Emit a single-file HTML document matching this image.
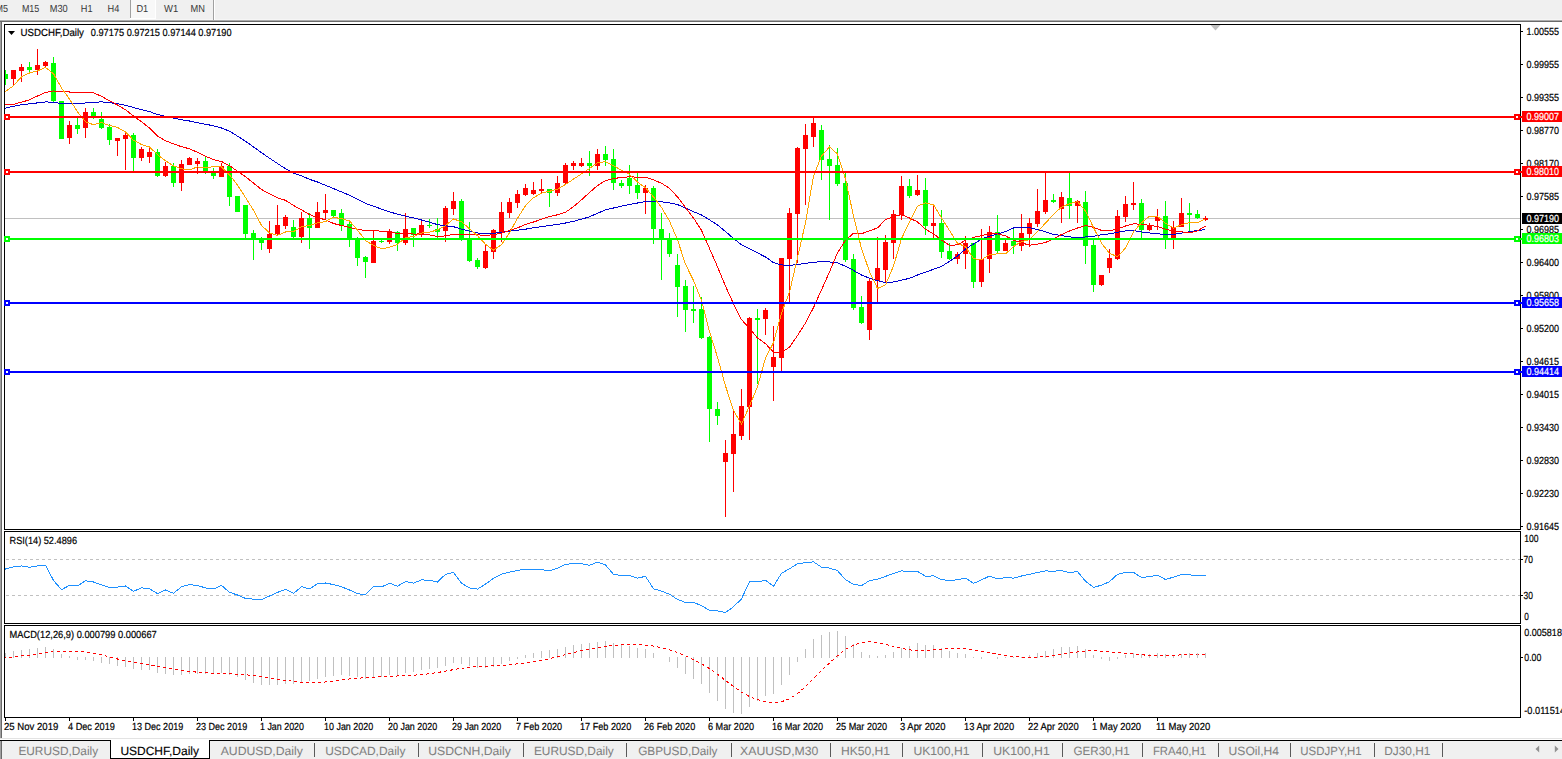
<!DOCTYPE html>
<html><head><meta charset="utf-8"><title>USDCHF,Daily</title>
<style>html,body{margin:0;padding:0;background:#fff;overflow:hidden}svg{display:block}text{white-space:pre}</style></head>
<body>
<svg width="1562" height="759" viewBox="0 0 1562 759" font-family='"Liberation Sans", sans-serif' shape-rendering="crispEdges" text-rendering="geometricPrecision">
<rect x="0" y="0" width="1562" height="759" fill="#fff"/>
<rect x="0" y="0" width="1562" height="20" fill="#f0f0f0"/>
<rect x="0" y="19" width="1562" height="1" fill="#f6f6f6"/>
<rect x="0" y="20" width="1562" height="1" fill="#adadad"/>
<rect x="0" y="21" width="1562" height="1" fill="#6a6a6a"/>
<rect x="0" y="22" width="1" height="717" fill="#a0a0a0"/>
<rect x="1" y="22" width="1" height="717" fill="#696969"/>
<rect x="130" y="0" width="1" height="18" fill="#a0a0a0"/>
<rect x="131" y="0" width="24" height="18" fill="#f8f8f8"/>
<rect x="130" y="18" width="26" height="1" fill="#fff"/>
<rect x="155" y="0" width="1" height="18" fill="#fff"/>
<rect x="213" y="0" width="1" height="20" fill="#a0a0a0"/>
<rect x="214" y="0" width="1" height="20" fill="#fff"/>
<text x="-4.5" y="12" font-size="10.3" fill="#383838" stroke="#383838" stroke-width="0" textLength="12.5" lengthAdjust="spacingAndGlyphs">M5</text>
<text x="21.9" y="12" font-size="10.3" fill="#383838" stroke="#383838" stroke-width="0" textLength="17.4" lengthAdjust="spacingAndGlyphs">M15</text>
<text x="49.7" y="12" font-size="10.3" fill="#383838" stroke="#383838" stroke-width="0" textLength="18.0" lengthAdjust="spacingAndGlyphs">M30</text>
<text x="80.8" y="12" font-size="10.3" fill="#383838" stroke="#383838" stroke-width="0" textLength="11.7" lengthAdjust="spacingAndGlyphs">H1</text>
<text x="107.6" y="12" font-size="10.3" fill="#383838" stroke="#383838" stroke-width="0" textLength="11.8" lengthAdjust="spacingAndGlyphs">H4</text>
<text x="136.4" y="12" font-size="10.3" fill="#383838" stroke="#383838" stroke-width="0" textLength="11.8" lengthAdjust="spacingAndGlyphs">D1</text>
<text x="164" y="12" font-size="10.3" fill="#383838" stroke="#383838" stroke-width="0" textLength="14.2" lengthAdjust="spacingAndGlyphs">W1</text>
<text x="190.6" y="12" font-size="10.3" fill="#383838" stroke="#383838" stroke-width="0" textLength="14.4" lengthAdjust="spacingAndGlyphs">MN</text>
<clipPath id="mc"><rect x="5" y="25" width="1515" height="504"/></clipPath>
<rect x="5" y="218" width="1515" height="1" fill="#c0c0c0"/>
<g clip-path="url(#mc)">
<rect x="5" y="70" width="1" height="15" fill="#00ff00"/>
<rect x="3" y="74" width="5" height="5" fill="#00ff00"/>
<rect x="13" y="70" width="1" height="15" fill="#ff0000"/>
<rect x="11" y="70" width="5" height="9" fill="#ff0000"/>
<rect x="21" y="64" width="1" height="18" fill="#ff0000"/>
<rect x="19" y="67" width="5" height="4" fill="#ff0000"/>
<rect x="29" y="62" width="1" height="12" fill="#00ff00"/>
<rect x="27" y="67" width="5" height="3" fill="#00ff00"/>
<rect x="37" y="49" width="1" height="26" fill="#ff0000"/>
<rect x="35" y="65" width="5" height="5" fill="#ff0000"/>
<rect x="45" y="61" width="1" height="6" fill="#ff0000"/>
<rect x="43" y="62" width="5" height="4" fill="#ff0000"/>
<rect x="53" y="57" width="1" height="46" fill="#00ff00"/>
<rect x="51" y="63" width="5" height="38" fill="#00ff00"/>
<rect x="61" y="101" width="1" height="38" fill="#00ff00"/>
<rect x="59" y="101" width="5" height="38" fill="#00ff00"/>
<rect x="69" y="121" width="1" height="23" fill="#ff0000"/>
<rect x="67" y="125" width="5" height="13" fill="#ff0000"/>
<rect x="77" y="118" width="1" height="16" fill="#00ff00"/>
<rect x="75" y="125" width="5" height="4" fill="#00ff00"/>
<rect x="85" y="108" width="1" height="30" fill="#ff0000"/>
<rect x="83" y="112" width="5" height="16" fill="#ff0000"/>
<rect x="93" y="108" width="1" height="11" fill="#00ff00"/>
<rect x="91" y="112" width="5" height="4" fill="#00ff00"/>
<rect x="101" y="112" width="1" height="17" fill="#00ff00"/>
<rect x="99" y="119" width="5" height="9" fill="#00ff00"/>
<rect x="109" y="124" width="1" height="21" fill="#00ff00"/>
<rect x="107" y="127" width="5" height="13" fill="#00ff00"/>
<rect x="117" y="138" width="1" height="18" fill="#ff0000"/>
<rect x="115" y="138" width="5" height="3" fill="#ff0000"/>
<rect x="125" y="132" width="1" height="38" fill="#ff0000"/>
<rect x="123" y="135" width="5" height="4" fill="#ff0000"/>
<rect x="133" y="133" width="1" height="38" fill="#00ff00"/>
<rect x="131" y="135" width="5" height="23" fill="#00ff00"/>
<rect x="141" y="147" width="1" height="14" fill="#ff0000"/>
<rect x="139" y="149" width="5" height="9" fill="#ff0000"/>
<rect x="149" y="147" width="1" height="16" fill="#ff0000"/>
<rect x="147" y="152" width="5" height="5" fill="#ff0000"/>
<rect x="157" y="149" width="1" height="28" fill="#00ff00"/>
<rect x="155" y="152" width="5" height="24" fill="#00ff00"/>
<rect x="165" y="162" width="1" height="15" fill="#ff0000"/>
<rect x="163" y="166" width="5" height="10" fill="#ff0000"/>
<rect x="173" y="163" width="1" height="24" fill="#00ff00"/>
<rect x="171" y="166" width="5" height="17" fill="#00ff00"/>
<rect x="181" y="160" width="1" height="31" fill="#ff0000"/>
<rect x="179" y="164" width="5" height="19" fill="#ff0000"/>
<rect x="189" y="157" width="1" height="8" fill="#ff0000"/>
<rect x="187" y="158" width="5" height="7" fill="#ff0000"/>
<rect x="197" y="158" width="1" height="16" fill="#ff0000"/>
<rect x="195" y="161" width="5" height="3" fill="#ff0000"/>
<rect x="205" y="156" width="1" height="18" fill="#00ff00"/>
<rect x="203" y="161" width="5" height="10" fill="#00ff00"/>
<rect x="213" y="168" width="1" height="11" fill="#00ff00"/>
<rect x="211" y="173" width="5" height="3" fill="#00ff00"/>
<rect x="221" y="163" width="1" height="14" fill="#ff0000"/>
<rect x="219" y="166" width="5" height="11" fill="#ff0000"/>
<rect x="229" y="163" width="1" height="43" fill="#00ff00"/>
<rect x="227" y="166" width="5" height="31" fill="#00ff00"/>
<rect x="237" y="196" width="1" height="16" fill="#00ff00"/>
<rect x="235" y="196" width="5" height="16" fill="#00ff00"/>
<rect x="245" y="205" width="1" height="33" fill="#00ff00"/>
<rect x="243" y="205" width="5" height="29" fill="#00ff00"/>
<rect x="253" y="230" width="1" height="30" fill="#00ff00"/>
<rect x="251" y="233" width="5" height="6" fill="#00ff00"/>
<rect x="261" y="237" width="1" height="13" fill="#00ff00"/>
<rect x="259" y="239" width="5" height="4" fill="#00ff00"/>
<rect x="269" y="221" width="1" height="32" fill="#ff0000"/>
<rect x="267" y="234" width="5" height="15" fill="#ff0000"/>
<rect x="277" y="205" width="1" height="30" fill="#ff0000"/>
<rect x="275" y="225" width="5" height="9" fill="#ff0000"/>
<rect x="285" y="215" width="1" height="14" fill="#ff0000"/>
<rect x="283" y="217" width="5" height="9" fill="#ff0000"/>
<rect x="293" y="220" width="1" height="18" fill="#00ff00"/>
<rect x="291" y="227" width="5" height="10" fill="#00ff00"/>
<rect x="301" y="212" width="1" height="31" fill="#ff0000"/>
<rect x="299" y="218" width="5" height="19" fill="#ff0000"/>
<rect x="309" y="213" width="1" height="36" fill="#00ff00"/>
<rect x="307" y="218" width="5" height="10" fill="#00ff00"/>
<rect x="317" y="202" width="1" height="26" fill="#ff0000"/>
<rect x="315" y="212" width="5" height="16" fill="#ff0000"/>
<rect x="325" y="194" width="1" height="26" fill="#ff0000"/>
<rect x="323" y="210" width="5" height="3" fill="#ff0000"/>
<rect x="333" y="210" width="1" height="8" fill="#00ff00"/>
<rect x="331" y="210" width="5" height="6" fill="#00ff00"/>
<rect x="341" y="209" width="1" height="22" fill="#00ff00"/>
<rect x="339" y="213" width="5" height="12" fill="#00ff00"/>
<rect x="349" y="222" width="1" height="25" fill="#00ff00"/>
<rect x="347" y="224" width="5" height="15" fill="#00ff00"/>
<rect x="357" y="237" width="1" height="29" fill="#00ff00"/>
<rect x="355" y="239" width="5" height="19" fill="#00ff00"/>
<rect x="365" y="256" width="1" height="22" fill="#00ff00"/>
<rect x="363" y="257" width="5" height="5" fill="#00ff00"/>
<rect x="373" y="230" width="1" height="33" fill="#ff0000"/>
<rect x="371" y="241" width="5" height="22" fill="#ff0000"/>
<rect x="381" y="240" width="1" height="3" fill="#00ff00"/>
<rect x="379" y="241" width="5" height="1" fill="#00ff00"/>
<rect x="389" y="229" width="1" height="15" fill="#ff0000"/>
<rect x="387" y="231" width="5" height="11" fill="#ff0000"/>
<rect x="397" y="231" width="1" height="20" fill="#00ff00"/>
<rect x="395" y="232" width="5" height="11" fill="#00ff00"/>
<rect x="405" y="213" width="1" height="32" fill="#ff0000"/>
<rect x="403" y="229" width="5" height="14" fill="#ff0000"/>
<rect x="413" y="228" width="1" height="19" fill="#00ff00"/>
<rect x="411" y="228" width="5" height="7" fill="#00ff00"/>
<rect x="421" y="220" width="1" height="17" fill="#ff0000"/>
<rect x="419" y="225" width="5" height="10" fill="#ff0000"/>
<rect x="429" y="219" width="1" height="9" fill="#00ff00"/>
<rect x="427" y="225" width="5" height="1" fill="#00ff00"/>
<rect x="437" y="218" width="1" height="20" fill="#00ff00"/>
<rect x="435" y="229" width="5" height="3" fill="#00ff00"/>
<rect x="445" y="206" width="1" height="36" fill="#ff0000"/>
<rect x="443" y="208" width="5" height="23" fill="#ff0000"/>
<rect x="453" y="192" width="1" height="23" fill="#ff0000"/>
<rect x="451" y="201" width="5" height="8" fill="#ff0000"/>
<rect x="461" y="199" width="1" height="42" fill="#00ff00"/>
<rect x="459" y="201" width="5" height="38" fill="#00ff00"/>
<rect x="469" y="222" width="1" height="40" fill="#00ff00"/>
<rect x="467" y="239" width="5" height="22" fill="#00ff00"/>
<rect x="477" y="258" width="1" height="11" fill="#00ff00"/>
<rect x="475" y="260" width="5" height="7" fill="#00ff00"/>
<rect x="485" y="245" width="1" height="24" fill="#ff0000"/>
<rect x="483" y="251" width="5" height="17" fill="#ff0000"/>
<rect x="493" y="229" width="1" height="30" fill="#ff0000"/>
<rect x="491" y="230" width="5" height="22" fill="#ff0000"/>
<rect x="501" y="202" width="1" height="40" fill="#ff0000"/>
<rect x="499" y="212" width="5" height="21" fill="#ff0000"/>
<rect x="509" y="198" width="1" height="20" fill="#ff0000"/>
<rect x="507" y="202" width="5" height="11" fill="#ff0000"/>
<rect x="517" y="190" width="1" height="18" fill="#ff0000"/>
<rect x="515" y="194" width="5" height="9" fill="#ff0000"/>
<rect x="525" y="184" width="1" height="12" fill="#ff0000"/>
<rect x="523" y="188" width="5" height="7" fill="#ff0000"/>
<rect x="533" y="182" width="1" height="13" fill="#ff0000"/>
<rect x="531" y="190" width="5" height="4" fill="#ff0000"/>
<rect x="541" y="179" width="1" height="14" fill="#ff0000"/>
<rect x="539" y="189" width="5" height="2" fill="#ff0000"/>
<rect x="549" y="189" width="1" height="18" fill="#00ff00"/>
<rect x="547" y="189" width="5" height="4" fill="#00ff00"/>
<rect x="557" y="176" width="1" height="20" fill="#ff0000"/>
<rect x="555" y="183" width="5" height="10" fill="#ff0000"/>
<rect x="565" y="163" width="1" height="21" fill="#ff0000"/>
<rect x="563" y="165" width="5" height="18" fill="#ff0000"/>
<rect x="573" y="161" width="1" height="9" fill="#ff0000"/>
<rect x="571" y="163" width="5" height="3" fill="#ff0000"/>
<rect x="581" y="158" width="1" height="9" fill="#ff0000"/>
<rect x="579" y="163" width="5" height="3" fill="#ff0000"/>
<rect x="589" y="151" width="1" height="25" fill="#00ff00"/>
<rect x="587" y="163" width="5" height="3" fill="#00ff00"/>
<rect x="597" y="149" width="1" height="21" fill="#ff0000"/>
<rect x="595" y="154" width="5" height="12" fill="#ff0000"/>
<rect x="605" y="146" width="1" height="20" fill="#00ff00"/>
<rect x="603" y="154" width="5" height="6" fill="#00ff00"/>
<rect x="613" y="149" width="1" height="41" fill="#00ff00"/>
<rect x="611" y="159" width="5" height="24" fill="#00ff00"/>
<rect x="621" y="180" width="1" height="8" fill="#00ff00"/>
<rect x="619" y="183" width="5" height="3" fill="#00ff00"/>
<rect x="629" y="165" width="1" height="29" fill="#00ff00"/>
<rect x="627" y="178" width="5" height="8" fill="#00ff00"/>
<rect x="637" y="173" width="1" height="26" fill="#00ff00"/>
<rect x="635" y="185" width="5" height="8" fill="#00ff00"/>
<rect x="645" y="185" width="1" height="29" fill="#ff0000"/>
<rect x="643" y="188" width="5" height="5" fill="#ff0000"/>
<rect x="653" y="186" width="1" height="58" fill="#00ff00"/>
<rect x="651" y="188" width="5" height="41" fill="#00ff00"/>
<rect x="661" y="213" width="1" height="67" fill="#00ff00"/>
<rect x="659" y="229" width="5" height="10" fill="#00ff00"/>
<rect x="669" y="233" width="1" height="24" fill="#00ff00"/>
<rect x="667" y="239" width="5" height="15" fill="#00ff00"/>
<rect x="677" y="254" width="1" height="63" fill="#00ff00"/>
<rect x="675" y="265" width="5" height="22" fill="#00ff00"/>
<rect x="685" y="280" width="1" height="52" fill="#00ff00"/>
<rect x="683" y="286" width="5" height="24" fill="#00ff00"/>
<rect x="693" y="286" width="1" height="37" fill="#00ff00"/>
<rect x="691" y="309" width="5" height="2" fill="#00ff00"/>
<rect x="701" y="297" width="1" height="42" fill="#00ff00"/>
<rect x="699" y="309" width="5" height="29" fill="#00ff00"/>
<rect x="709" y="336" width="1" height="106" fill="#00ff00"/>
<rect x="707" y="337" width="5" height="72" fill="#00ff00"/>
<rect x="717" y="402" width="1" height="23" fill="#00ff00"/>
<rect x="715" y="409" width="5" height="7" fill="#00ff00"/>
<rect x="725" y="440" width="1" height="77" fill="#ff0000"/>
<rect x="723" y="453" width="5" height="9" fill="#ff0000"/>
<rect x="733" y="411" width="1" height="81" fill="#ff0000"/>
<rect x="731" y="434" width="5" height="20" fill="#ff0000"/>
<rect x="741" y="389" width="1" height="51" fill="#ff0000"/>
<rect x="739" y="406" width="5" height="30" fill="#ff0000"/>
<rect x="749" y="317" width="1" height="123" fill="#ff0000"/>
<rect x="747" y="318" width="5" height="89" fill="#ff0000"/>
<rect x="757" y="309" width="1" height="75" fill="#00ff00"/>
<rect x="755" y="318" width="5" height="2" fill="#00ff00"/>
<rect x="765" y="308" width="1" height="27" fill="#ff0000"/>
<rect x="763" y="310" width="5" height="9" fill="#ff0000"/>
<rect x="773" y="326" width="1" height="75" fill="#ff0000"/>
<rect x="771" y="357" width="5" height="10" fill="#ff0000"/>
<rect x="781" y="258" width="1" height="113" fill="#ff0000"/>
<rect x="779" y="258" width="5" height="100" fill="#ff0000"/>
<rect x="789" y="208" width="1" height="94" fill="#ff0000"/>
<rect x="787" y="213" width="5" height="46" fill="#ff0000"/>
<rect x="797" y="147" width="1" height="116" fill="#ff0000"/>
<rect x="795" y="148" width="5" height="66" fill="#ff0000"/>
<rect x="805" y="124" width="1" height="81" fill="#ff0000"/>
<rect x="803" y="135" width="5" height="14" fill="#ff0000"/>
<rect x="813" y="118" width="1" height="29" fill="#ff0000"/>
<rect x="811" y="123" width="5" height="14" fill="#ff0000"/>
<rect x="821" y="125" width="1" height="55" fill="#00ff00"/>
<rect x="819" y="130" width="5" height="30" fill="#00ff00"/>
<rect x="829" y="145" width="1" height="75" fill="#00ff00"/>
<rect x="827" y="159" width="5" height="7" fill="#00ff00"/>
<rect x="837" y="148" width="1" height="38" fill="#00ff00"/>
<rect x="835" y="165" width="5" height="19" fill="#00ff00"/>
<rect x="845" y="173" width="1" height="89" fill="#00ff00"/>
<rect x="843" y="183" width="5" height="77" fill="#00ff00"/>
<rect x="853" y="254" width="1" height="56" fill="#00ff00"/>
<rect x="851" y="259" width="5" height="49" fill="#00ff00"/>
<rect x="861" y="296" width="1" height="28" fill="#00ff00"/>
<rect x="859" y="307" width="5" height="16" fill="#00ff00"/>
<rect x="869" y="279" width="1" height="61" fill="#ff0000"/>
<rect x="867" y="281" width="5" height="49" fill="#ff0000"/>
<rect x="877" y="237" width="1" height="65" fill="#ff0000"/>
<rect x="875" y="268" width="5" height="13" fill="#ff0000"/>
<rect x="885" y="235" width="1" height="47" fill="#ff0000"/>
<rect x="883" y="242" width="5" height="28" fill="#ff0000"/>
<rect x="893" y="210" width="1" height="49" fill="#ff0000"/>
<rect x="891" y="214" width="5" height="29" fill="#ff0000"/>
<rect x="901" y="176" width="1" height="44" fill="#ff0000"/>
<rect x="899" y="186" width="5" height="29" fill="#ff0000"/>
<rect x="909" y="179" width="1" height="19" fill="#00ff00"/>
<rect x="907" y="186" width="5" height="10" fill="#00ff00"/>
<rect x="917" y="175" width="1" height="21" fill="#ff0000"/>
<rect x="915" y="190" width="5" height="5" fill="#ff0000"/>
<rect x="925" y="178" width="1" height="57" fill="#00ff00"/>
<rect x="923" y="190" width="5" height="36" fill="#00ff00"/>
<rect x="933" y="205" width="1" height="33" fill="#ff0000"/>
<rect x="931" y="223" width="5" height="3" fill="#ff0000"/>
<rect x="941" y="210" width="1" height="48" fill="#00ff00"/>
<rect x="939" y="223" width="5" height="29" fill="#00ff00"/>
<rect x="949" y="243" width="1" height="17" fill="#00ff00"/>
<rect x="947" y="251" width="5" height="8" fill="#00ff00"/>
<rect x="957" y="252" width="1" height="12" fill="#ff0000"/>
<rect x="955" y="254" width="5" height="5" fill="#ff0000"/>
<rect x="965" y="236" width="1" height="33" fill="#ff0000"/>
<rect x="963" y="243" width="5" height="11" fill="#ff0000"/>
<rect x="973" y="243" width="1" height="45" fill="#00ff00"/>
<rect x="971" y="243" width="5" height="39" fill="#00ff00"/>
<rect x="981" y="229" width="1" height="58" fill="#ff0000"/>
<rect x="979" y="259" width="5" height="23" fill="#ff0000"/>
<rect x="989" y="226" width="1" height="47" fill="#ff0000"/>
<rect x="987" y="232" width="5" height="27" fill="#ff0000"/>
<rect x="997" y="215" width="1" height="38" fill="#00ff00"/>
<rect x="995" y="232" width="5" height="19" fill="#00ff00"/>
<rect x="1005" y="240" width="1" height="11" fill="#ff0000"/>
<rect x="1003" y="243" width="5" height="8" fill="#ff0000"/>
<rect x="1013" y="229" width="1" height="25" fill="#00ff00"/>
<rect x="1011" y="241" width="5" height="5" fill="#00ff00"/>
<rect x="1021" y="214" width="1" height="37" fill="#ff0000"/>
<rect x="1019" y="233" width="5" height="13" fill="#ff0000"/>
<rect x="1029" y="218" width="1" height="29" fill="#ff0000"/>
<rect x="1027" y="223" width="5" height="11" fill="#ff0000"/>
<rect x="1037" y="189" width="1" height="38" fill="#ff0000"/>
<rect x="1035" y="211" width="5" height="13" fill="#ff0000"/>
<rect x="1045" y="173" width="1" height="41" fill="#ff0000"/>
<rect x="1043" y="200" width="5" height="12" fill="#ff0000"/>
<rect x="1053" y="194" width="1" height="9" fill="#00ff00"/>
<rect x="1051" y="200" width="5" height="2" fill="#00ff00"/>
<rect x="1061" y="192" width="1" height="31" fill="#ff0000"/>
<rect x="1059" y="197" width="5" height="12" fill="#ff0000"/>
<rect x="1069" y="173" width="1" height="46" fill="#00ff00"/>
<rect x="1067" y="198" width="5" height="8" fill="#00ff00"/>
<rect x="1077" y="200" width="1" height="23" fill="#ff0000"/>
<rect x="1075" y="201" width="5" height="5" fill="#ff0000"/>
<rect x="1085" y="191" width="1" height="73" fill="#00ff00"/>
<rect x="1083" y="202" width="5" height="44" fill="#00ff00"/>
<rect x="1093" y="240" width="1" height="52" fill="#00ff00"/>
<rect x="1091" y="245" width="5" height="40" fill="#00ff00"/>
<rect x="1101" y="275" width="1" height="11" fill="#ff0000"/>
<rect x="1099" y="275" width="5" height="10" fill="#ff0000"/>
<rect x="1109" y="249" width="1" height="24" fill="#ff0000"/>
<rect x="1107" y="258" width="5" height="10" fill="#ff0000"/>
<rect x="1117" y="210" width="1" height="50" fill="#ff0000"/>
<rect x="1115" y="216" width="5" height="43" fill="#ff0000"/>
<rect x="1125" y="196" width="1" height="26" fill="#ff0000"/>
<rect x="1123" y="204" width="5" height="13" fill="#ff0000"/>
<rect x="1133" y="182" width="1" height="28" fill="#ff0000"/>
<rect x="1131" y="203" width="5" height="2" fill="#ff0000"/>
<rect x="1141" y="199" width="1" height="39" fill="#00ff00"/>
<rect x="1139" y="203" width="5" height="27" fill="#00ff00"/>
<rect x="1149" y="223" width="1" height="8" fill="#ff0000"/>
<rect x="1147" y="225" width="5" height="5" fill="#ff0000"/>
<rect x="1157" y="209" width="1" height="21" fill="#ff0000"/>
<rect x="1155" y="217" width="5" height="4" fill="#ff0000"/>
<rect x="1165" y="201" width="1" height="48" fill="#00ff00"/>
<rect x="1163" y="216" width="5" height="23" fill="#00ff00"/>
<rect x="1173" y="221" width="1" height="28" fill="#ff0000"/>
<rect x="1171" y="227" width="5" height="11" fill="#ff0000"/>
<rect x="1181" y="198" width="1" height="29" fill="#ff0000"/>
<rect x="1179" y="213" width="5" height="14" fill="#ff0000"/>
<rect x="1189" y="203" width="1" height="29" fill="#00ff00"/>
<rect x="1187" y="213" width="5" height="2" fill="#00ff00"/>
<rect x="1197" y="210" width="1" height="9" fill="#00ff00"/>
<rect x="1195" y="214" width="5" height="4" fill="#00ff00"/>
<rect x="1205" y="216" width="1" height="5" fill="#ff0000"/>
<rect x="1203" y="218" width="5" height="2" fill="#ff0000"/>
</g>
<g clip-path="url(#mc)">
<polyline points="-2.5,109.7 5.5,108.1 13.5,106.3 21.5,104.7 29.5,103.8 37.5,102.9 45.5,101.9 53.5,102.3 61.5,103.5 69.5,103.9 77.5,103.9 85.5,102.9 93.5,102.2 101.5,101.9 109.5,102.7 117.5,103.8 125.5,105.2 133.5,107.5 141.5,109.6 149.5,111.6 157.5,114.5 165.5,116.4 173.5,118.2 181.5,119.7 189.5,121.0 197.5,122.7 205.5,124.2 213.5,125.8 221.5,128.0 229.5,131.2 237.5,136.1 245.5,141.3 253.5,146.9 261.5,152.7 269.5,158.2 277.5,163.5 285.5,168.7 293.5,173.2 301.5,175.8 309.5,179.3 317.5,182.0 325.5,185.3 333.5,188.6 341.5,191.9 349.5,195.2 357.5,199.2 365.5,203.4 373.5,206.1 381.5,209.2 389.5,211.9 397.5,214.1 405.5,216.2 413.5,217.9 421.5,220.0 429.5,222.2 437.5,224.6 445.5,225.8 453.5,226.7 461.5,229.1 469.5,231.2 477.5,233.0 485.5,233.6 493.5,233.3 501.5,232.3 509.5,231.2 517.5,230.2 525.5,229.2 533.5,227.7 541.5,226.7 549.5,225.5 557.5,224.5 565.5,223.0 573.5,221.3 581.5,219.2 589.5,216.8 597.5,213.3 605.5,209.9 613.5,208.0 621.5,206.1 629.5,204.6 637.5,203.0 645.5,201.6 653.5,201.4 661.5,201.8 669.5,202.8 677.5,204.6 685.5,208.0 693.5,211.7 701.5,215.0 709.5,219.9 717.5,224.9 725.5,231.6 733.5,238.4 741.5,244.9 749.5,248.8 757.5,252.9 765.5,257.0 773.5,262.6 781.5,264.9 789.5,265.6 797.5,264.4 805.5,263.4 813.5,262.1 821.5,261.9 829.5,261.9 837.5,262.9 845.5,266.3 853.5,270.4 861.5,275.0 869.5,278.2 877.5,280.7 885.5,282.5 893.5,282.0 901.5,280.2 909.5,278.3 917.5,275.0 925.5,272.2 933.5,269.3 941.5,266.4 949.5,261.4 957.5,256.0 965.5,249.0 973.5,244.0 981.5,239.1 989.5,236.2 997.5,233.9 1005.5,231.7 1013.5,228.0 1021.5,227.1 1029.5,227.5 1037.5,229.6 1045.5,231.7 1053.5,234.4 1061.5,235.6 1069.5,236.9 1077.5,237.5 1085.5,237.0 1093.5,236.3 1101.5,234.7 1109.5,233.9 1117.5,232.2 1125.5,230.9 1133.5,230.5 1141.5,232.0 1149.5,233.0 1157.5,233.9 1165.5,234.3 1173.5,234.4 1181.5,233.1 1189.5,231.7 1197.5,230.5 1205.5,229.7" fill="none" stroke="#0000cd" stroke-width="1"/>
<polyline points="-2.5,105.1 5.5,104.8 13.5,104.3 21.5,102.2 29.5,99.8 37.5,96.0 45.5,92.4 53.5,91.0 61.5,91.4 69.5,92.0 77.5,92.0 85.5,92.3 93.5,92.9 101.5,96.3 109.5,100.8 117.5,105.0 125.5,109.7 133.5,116.1 141.5,121.8 149.5,128.0 157.5,136.1 165.5,140.8 173.5,143.9 181.5,146.7 189.5,148.8 197.5,152.3 205.5,156.2 213.5,159.6 221.5,161.5 229.5,165.7 237.5,171.2 245.5,176.7 253.5,183.1 261.5,189.5 269.5,193.7 277.5,197.9 285.5,200.3 293.5,205.5 301.5,209.8 309.5,214.6 317.5,217.5 325.5,219.9 333.5,223.5 341.5,225.5 349.5,227.4 357.5,229.1 365.5,230.8 373.5,230.6 381.5,231.2 389.5,231.6 397.5,233.5 405.5,232.9 413.5,234.1 421.5,233.9 429.5,234.9 437.5,236.5 445.5,235.9 453.5,234.2 461.5,234.2 469.5,234.4 477.5,234.8 485.5,235.5 493.5,234.6 501.5,233.3 509.5,230.3 517.5,227.8 525.5,224.5 533.5,222.0 541.5,219.3 549.5,216.5 557.5,214.8 565.5,212.2 573.5,206.7 581.5,199.8 589.5,192.5 597.5,185.6 605.5,180.6 613.5,178.6 621.5,177.4 629.5,176.8 637.5,177.2 645.5,177.1 653.5,179.9 661.5,183.2 669.5,188.3 677.5,197.0 685.5,207.5 693.5,218.0 701.5,230.3 709.5,248.5 717.5,266.8 725.5,286.1 733.5,303.8 741.5,319.6 749.5,328.5 757.5,337.9 765.5,343.7 773.5,352.1 781.5,352.4 789.5,347.2 797.5,335.6 805.5,323.0 813.5,307.6 821.5,289.8 829.5,272.0 837.5,252.8 845.5,240.3 853.5,233.3 861.5,233.7 869.5,230.9 877.5,227.9 885.5,219.7 893.5,216.5 901.5,214.6 909.5,218.0 917.5,221.9 925.5,229.3 933.5,233.8 941.5,240.0 949.5,245.3 957.5,244.9 965.5,240.3 973.5,237.3 981.5,235.8 989.5,233.2 997.5,233.8 1005.5,235.9 1013.5,240.2 1021.5,242.8 1029.5,245.2 1037.5,244.1 1045.5,242.5 1053.5,238.9 1061.5,234.5 1069.5,231.0 1077.5,228.0 1085.5,225.5 1093.5,227.3 1101.5,230.4 1109.5,230.9 1117.5,229.0 1125.5,226.0 1133.5,223.8 1141.5,224.3 1149.5,225.3 1157.5,226.6 1165.5,229.2 1173.5,231.3 1181.5,231.8 1189.5,232.8 1197.5,230.8 1205.5,226.1" fill="none" stroke="#ff0000" stroke-width="1"/>
<polyline points="-2.5,97.5 5.5,91.5 13.5,85.7 21.5,76.8 29.5,73.0 37.5,70.8 45.5,67.5 53.5,73.7 61.5,88.0 69.5,99.1 77.5,111.8 85.5,121.7 93.5,124.8 101.5,122.6 109.5,125.5 117.5,127.4 125.5,132.0 133.5,140.3 141.5,144.5 149.5,147.0 157.5,154.6 165.5,160.8 173.5,165.8 181.5,168.8 189.5,169.9 197.5,166.9 205.5,168.0 213.5,166.6 221.5,167.0 229.5,174.8 237.5,185.0 245.5,197.5 253.5,210.2 261.5,225.4 269.5,232.8 277.5,235.4 285.5,232.0 293.5,231.6 301.5,226.7 309.5,225.5 317.5,222.9 325.5,221.5 333.5,217.3 341.5,218.7 349.5,220.9 357.5,230.1 365.5,240.5 373.5,245.4 381.5,248.8 389.5,247.3 397.5,244.3 405.5,237.7 413.5,236.5 421.5,233.1 429.5,232.1 437.5,229.9 445.5,225.7 453.5,218.9 461.5,221.8 469.5,228.7 477.5,235.7 485.5,244.3 493.5,250.1 501.5,244.6 509.5,232.8 517.5,218.2 525.5,205.7 533.5,197.7 541.5,193.1 549.5,191.3 557.5,189.1 565.5,184.5 573.5,179.1 581.5,173.9 589.5,168.5 597.5,162.7 605.5,161.7 613.5,165.7 621.5,170.3 629.5,174.3 637.5,182.1 645.5,187.7 653.5,196.9 661.5,207.5 669.5,221.1 677.5,239.8 685.5,264.2 693.5,280.6 701.5,300.5 709.5,331.5 717.5,357.3 725.5,385.9 733.5,410.5 741.5,424.1 749.5,405.9 757.5,386.7 765.5,358.1 773.5,342.7 781.5,313.1 789.5,292.1 797.5,257.7 805.5,222.7 813.5,175.9 821.5,156.2 829.5,146.8 837.5,154.0 845.5,179.0 853.5,216.0 861.5,248.6 869.5,271.6 877.5,288.5 885.5,284.9 893.5,266.1 901.5,238.7 909.5,221.7 917.5,206.1 925.5,202.9 933.5,204.7 941.5,217.9 949.5,230.5 957.5,243.3 965.5,246.7 973.5,258.5 981.5,259.9 989.5,254.5 997.5,253.9 1005.5,253.9 1013.5,246.7 1021.5,241.5 1029.5,239.7 1037.5,231.6 1045.5,223.1 1053.5,214.3 1061.5,207.1 1069.5,203.7 1077.5,201.7 1085.5,210.9 1093.5,227.5 1101.5,243.1 1109.5,253.5 1117.5,256.5 1125.5,248.1 1133.5,231.7 1141.5,222.7 1149.5,216.1 1157.5,216.3 1165.5,223.3 1173.5,228.1 1181.5,224.7 1189.5,222.7 1197.5,222.9 1205.5,218.7" fill="none" stroke="#ffa500" stroke-width="1"/>
</g>
<rect x="4" y="24" width="1517" height="1" fill="#000"/>
<rect x="4" y="529" width="1517" height="1" fill="#000"/>
<rect x="4" y="531" width="1517" height="1" fill="#000"/>
<rect x="4" y="623" width="1517" height="1" fill="#000"/>
<rect x="4" y="625" width="1517" height="1" fill="#000"/>
<rect x="4" y="717" width="1517" height="1" fill="#000"/>
<rect x="4" y="24" width="1" height="694" fill="#000"/>
<rect x="1520" y="24" width="1" height="694" fill="#000"/>
<rect x="4" y="530" width="1517" height="1" fill="#fff"/>
<rect x="4" y="624" width="1517" height="1" fill="#fff"/>
<rect x="5" y="116" width="1515" height="2" fill="#ff0000"/>
<rect x="4" y="114" width="6" height="6" fill="#ff0000"/>
<rect x="6" y="116" width="2" height="2" fill="#fff"/>
<rect x="1514" y="114" width="6" height="6" fill="#ff0000"/>
<rect x="1516" y="116" width="2" height="2" fill="#fff"/>
<rect x="5" y="171" width="1515" height="2" fill="#ff0000"/>
<rect x="4" y="169" width="6" height="6" fill="#ff0000"/>
<rect x="6" y="171" width="2" height="2" fill="#fff"/>
<rect x="1514" y="169" width="6" height="6" fill="#ff0000"/>
<rect x="1516" y="171" width="2" height="2" fill="#fff"/>
<rect x="5" y="238" width="1515" height="2" fill="#00ff00"/>
<rect x="4" y="236" width="6" height="6" fill="#00ff00"/>
<rect x="6" y="238" width="2" height="2" fill="#fff"/>
<rect x="1514" y="236" width="6" height="6" fill="#00ff00"/>
<rect x="1516" y="238" width="2" height="2" fill="#fff"/>
<rect x="5" y="302" width="1515" height="2" fill="#0000ff"/>
<rect x="4" y="300" width="6" height="6" fill="#0000ff"/>
<rect x="6" y="302" width="2" height="2" fill="#fff"/>
<rect x="1514" y="300" width="6" height="6" fill="#0000ff"/>
<rect x="1516" y="302" width="2" height="2" fill="#fff"/>
<rect x="5" y="371" width="1515" height="2" fill="#0000ff"/>
<rect x="4" y="369" width="6" height="6" fill="#0000ff"/>
<rect x="6" y="371" width="2" height="2" fill="#fff"/>
<rect x="1514" y="369" width="6" height="6" fill="#0000ff"/>
<rect x="1516" y="371" width="2" height="2" fill="#fff"/>
<path d="M1210.5 25h10l-5 5.5z" fill="#c0c0c0" shape-rendering="auto"/>
<path d="M8 31h7l-3.5 4z" fill="#000" shape-rendering="auto"/>
<text x="20.5" y="36" font-size="10.3" fill="#000" stroke="#000" stroke-width="0.2" textLength="63.4" lengthAdjust="spacingAndGlyphs">USDCHF,Daily</text>
<text x="90.8" y="36" font-size="10.3" fill="#000" stroke="#000" stroke-width="0.2" textLength="140.8" lengthAdjust="spacingAndGlyphs">0.97175 0.97215 0.97144 0.97190</text>
<rect x="1521" y="31" width="2" height="1" fill="#000"/>
<text x="1526.5" y="35" font-size="10.3" fill="#000" stroke="#000" stroke-width="0.2" textLength="32.5" lengthAdjust="spacingAndGlyphs">1.00555</text>
<rect x="1521" y="64" width="2" height="1" fill="#000"/>
<text x="1526.5" y="68" font-size="10.3" fill="#000" stroke="#000" stroke-width="0.2" textLength="32.5" lengthAdjust="spacingAndGlyphs">0.99955</text>
<rect x="1521" y="97" width="2" height="1" fill="#000"/>
<text x="1526.5" y="101" font-size="10.3" fill="#000" stroke="#000" stroke-width="0.2" textLength="32.5" lengthAdjust="spacingAndGlyphs">0.99355</text>
<rect x="1521" y="130" width="2" height="1" fill="#000"/>
<text x="1526.5" y="134" font-size="10.3" fill="#000" stroke="#000" stroke-width="0.2" textLength="32.5" lengthAdjust="spacingAndGlyphs">0.98770</text>
<rect x="1521" y="163" width="2" height="1" fill="#000"/>
<text x="1526.5" y="167" font-size="10.3" fill="#000" stroke="#000" stroke-width="0.2" textLength="32.5" lengthAdjust="spacingAndGlyphs">0.98170</text>
<rect x="1521" y="196" width="2" height="1" fill="#000"/>
<text x="1526.5" y="200" font-size="10.3" fill="#000" stroke="#000" stroke-width="0.2" textLength="32.5" lengthAdjust="spacingAndGlyphs">0.97585</text>
<rect x="1521" y="229" width="2" height="1" fill="#000"/>
<text x="1526.5" y="233" font-size="10.3" fill="#000" stroke="#000" stroke-width="0.2" textLength="32.5" lengthAdjust="spacingAndGlyphs">0.96985</text>
<rect x="1521" y="262" width="2" height="1" fill="#000"/>
<text x="1526.5" y="266" font-size="10.3" fill="#000" stroke="#000" stroke-width="0.2" textLength="32.5" lengthAdjust="spacingAndGlyphs">0.96400</text>
<rect x="1521" y="295" width="2" height="1" fill="#000"/>
<text x="1526.5" y="299" font-size="10.3" fill="#000" stroke="#000" stroke-width="0.2" textLength="32.5" lengthAdjust="spacingAndGlyphs">0.95800</text>
<rect x="1521" y="328" width="2" height="1" fill="#000"/>
<text x="1526.5" y="332" font-size="10.3" fill="#000" stroke="#000" stroke-width="0.2" textLength="32.5" lengthAdjust="spacingAndGlyphs">0.95200</text>
<rect x="1521" y="361" width="2" height="1" fill="#000"/>
<text x="1526.5" y="365" font-size="10.3" fill="#000" stroke="#000" stroke-width="0.2" textLength="32.5" lengthAdjust="spacingAndGlyphs">0.94615</text>
<rect x="1521" y="394" width="2" height="1" fill="#000"/>
<text x="1526.5" y="398" font-size="10.3" fill="#000" stroke="#000" stroke-width="0.2" textLength="32.5" lengthAdjust="spacingAndGlyphs">0.94015</text>
<rect x="1521" y="427" width="2" height="1" fill="#000"/>
<text x="1526.5" y="431" font-size="10.3" fill="#000" stroke="#000" stroke-width="0.2" textLength="32.5" lengthAdjust="spacingAndGlyphs">0.93430</text>
<rect x="1521" y="460" width="2" height="1" fill="#000"/>
<text x="1526.5" y="464" font-size="10.3" fill="#000" stroke="#000" stroke-width="0.2" textLength="32.5" lengthAdjust="spacingAndGlyphs">0.92830</text>
<rect x="1521" y="493" width="2" height="1" fill="#000"/>
<text x="1526.5" y="497" font-size="10.3" fill="#000" stroke="#000" stroke-width="0.2" textLength="32.5" lengthAdjust="spacingAndGlyphs">0.92230</text>
<rect x="1521" y="526" width="2" height="1" fill="#000"/>
<text x="1526.5" y="530" font-size="10.3" fill="#000" stroke="#000" stroke-width="0.2" textLength="32.5" lengthAdjust="spacingAndGlyphs">0.91645</text>
<rect x="1522" y="111" width="40" height="11" fill="#ff0000"/>
<rect x="1520" y="116" width="2" height="2" fill="#ff0000"/>
<text x="1526.5" y="120" font-size="10.3" fill="#fff" stroke="#fff" stroke-width="0.2" textLength="32.5" lengthAdjust="spacingAndGlyphs">0.99007</text>
<rect x="1522" y="166" width="40" height="11" fill="#ff0000"/>
<rect x="1520" y="171" width="2" height="2" fill="#ff0000"/>
<text x="1526.5" y="175" font-size="10.3" fill="#fff" stroke="#fff" stroke-width="0.2" textLength="32.5" lengthAdjust="spacingAndGlyphs">0.98010</text>
<rect x="1522" y="233" width="40" height="11" fill="#00ff00"/>
<rect x="1520" y="238" width="2" height="2" fill="#00ff00"/>
<text x="1526.5" y="242" font-size="10.3" fill="#fff" stroke="#fff" stroke-width="0.2" textLength="32.5" lengthAdjust="spacingAndGlyphs">0.96803</text>
<rect x="1522" y="297" width="40" height="11" fill="#0000ff"/>
<rect x="1520" y="302" width="2" height="2" fill="#0000ff"/>
<text x="1526.5" y="306" font-size="10.3" fill="#fff" stroke="#fff" stroke-width="0.2" textLength="32.5" lengthAdjust="spacingAndGlyphs">0.95658</text>
<rect x="1522" y="366" width="40" height="11" fill="#0000ff"/>
<rect x="1520" y="371" width="2" height="2" fill="#0000ff"/>
<text x="1526.5" y="375" font-size="10.3" fill="#fff" stroke="#fff" stroke-width="0.2" textLength="32.5" lengthAdjust="spacingAndGlyphs">0.94414</text>
<rect x="1522" y="213" width="40" height="11" fill="#000"/>
<text x="1526.5" y="222" font-size="10.3" fill="#fff" stroke="#fff" stroke-width="0.2" textLength="32.5" lengthAdjust="spacingAndGlyphs">0.97190</text>
<line x1="6" y1="559.5" x2="1520" y2="559.5" stroke="#c0c0c0" stroke-width="1" stroke-dasharray="3 3"/>
<line x1="6" y1="595.5" x2="1520" y2="595.5" stroke="#c0c0c0" stroke-width="1" stroke-dasharray="3 3"/>
<clipPath id="rc"><rect x="5" y="532" width="1515" height="91"/></clipPath>
<polyline clip-path="url(#rc)" points="-2.5,570.4 5.5,569.0 13.5,566.8 21.5,566.0 29.5,567.3 37.5,565.9 45.5,565.1 53.5,580.4 61.5,589.7 69.5,585.3 77.5,586.0 85.5,580.8 93.5,582.0 101.5,584.9 109.5,587.6 117.5,587.1 125.5,585.9 133.5,591.3 141.5,587.9 149.5,588.7 157.5,593.7 165.5,590.0 173.5,593.3 181.5,586.7 189.5,584.7 197.5,585.4 205.5,588.0 213.5,589.0 221.5,585.4 229.5,592.3 237.5,595.0 245.5,598.4 253.5,599.1 261.5,599.7 269.5,596.0 277.5,592.4 285.5,589.3 293.5,593.4 301.5,586.7 309.5,588.9 317.5,583.7 325.5,583.0 333.5,584.6 341.5,586.8 349.5,590.0 357.5,593.8 365.5,594.5 373.5,586.7 381.5,587.0 389.5,583.2 397.5,586.2 405.5,581.5 413.5,583.1 421.5,579.9 429.5,580.2 437.5,582.0 445.5,574.3 453.5,572.4 461.5,583.3 469.5,587.9 477.5,589.1 485.5,584.1 493.5,578.4 501.5,574.2 509.5,572.1 517.5,570.4 525.5,569.1 533.5,569.7 541.5,569.5 549.5,570.9 557.5,568.3 565.5,564.2 573.5,563.8 581.5,563.8 589.5,565.2 597.5,562.2 605.5,565.0 613.5,574.4 621.5,575.5 629.5,575.5 637.5,578.2 645.5,576.3 653.5,588.8 661.5,591.1 669.5,594.2 677.5,599.5 685.5,602.4 693.5,602.5 701.5,605.5 709.5,610.5 717.5,610.8 725.5,612.6 733.5,606.7 741.5,598.9 749.5,581.6 757.5,581.9 765.5,580.2 773.5,586.4 781.5,573.2 789.5,568.8 797.5,563.7 805.5,562.7 813.5,561.9 821.5,567.2 829.5,568.1 837.5,570.6 845.5,579.7 853.5,584.3 861.5,585.6 869.5,580.7 877.5,579.2 885.5,576.4 893.5,573.5 901.5,570.7 909.5,572.0 917.5,571.4 925.5,576.2 933.5,575.9 941.5,579.6 949.5,580.5 957.5,579.8 965.5,578.1 973.5,583.4 981.5,579.9 989.5,576.1 997.5,578.8 1005.5,577.6 1013.5,578.1 1021.5,576.0 1029.5,574.4 1037.5,572.5 1045.5,570.9 1053.5,571.3 1061.5,570.5 1069.5,572.6 1077.5,571.6 1085.5,581.2 1093.5,587.4 1101.5,585.2 1109.5,581.7 1117.5,574.3 1125.5,572.4 1133.5,572.3 1141.5,577.5 1149.5,576.6 1157.5,575.1 1165.5,579.5 1173.5,577.1 1181.5,574.5 1189.5,574.9 1197.5,575.6 1205.5,575.6" fill="none" stroke="#1e90ff" stroke-width="1"/>
<text x="9.5" y="544" font-size="10.3" fill="#000" stroke="#000" stroke-width="0.2" textLength="67.5" lengthAdjust="spacingAndGlyphs">RSI(14) 52.4896</text>
<text x="1524.3" y="542" font-size="10.3" fill="#000" stroke="#000" stroke-width="0.2" textLength="14.3" lengthAdjust="spacingAndGlyphs">100</text>
<text x="1523.6" y="563" font-size="10.3" fill="#000" stroke="#000" stroke-width="0.2" textLength="9.4" lengthAdjust="spacingAndGlyphs">70</text>
<text x="1523.6" y="599" font-size="10.3" fill="#000" stroke="#000" stroke-width="0.2" textLength="9.4" lengthAdjust="spacingAndGlyphs">30</text>
<text x="1524.3" y="620" font-size="10.3" fill="#000" stroke="#000" stroke-width="0.2" textLength="4.6" lengthAdjust="spacingAndGlyphs">0</text>
<rect x="1521" y="559" width="2" height="1" fill="#000"/>
<rect x="1521" y="595" width="2" height="1" fill="#000"/>
<clipPath id="dc"><rect x="5" y="626" width="1515" height="91"/></clipPath>
<g clip-path="url(#dc)">
<rect x="5" y="653" width="1" height="5" fill="#c0c0c0"/>
<rect x="13" y="651" width="1" height="7" fill="#c0c0c0"/>
<rect x="21" y="650" width="1" height="8" fill="#c0c0c0"/>
<rect x="29" y="649" width="1" height="9" fill="#c0c0c0"/>
<rect x="37" y="648" width="1" height="10" fill="#c0c0c0"/>
<rect x="45" y="647" width="1" height="11" fill="#c0c0c0"/>
<rect x="53" y="649" width="1" height="9" fill="#c0c0c0"/>
<rect x="61" y="654" width="1" height="4" fill="#c0c0c0"/>
<rect x="69" y="656" width="1" height="2" fill="#c0c0c0"/>
<rect x="77" y="657" width="1" height="3" fill="#c0c0c0"/>
<rect x="85" y="657" width="1" height="3" fill="#c0c0c0"/>
<rect x="93" y="657" width="1" height="4" fill="#c0c0c0"/>
<rect x="101" y="657" width="1" height="6" fill="#c0c0c0"/>
<rect x="109" y="657" width="1" height="7" fill="#c0c0c0"/>
<rect x="117" y="657" width="1" height="9" fill="#c0c0c0"/>
<rect x="125" y="657" width="1" height="10" fill="#c0c0c0"/>
<rect x="133" y="657" width="1" height="12" fill="#c0c0c0"/>
<rect x="141" y="657" width="1" height="13" fill="#c0c0c0"/>
<rect x="149" y="657" width="1" height="13" fill="#c0c0c0"/>
<rect x="157" y="657" width="1" height="16" fill="#c0c0c0"/>
<rect x="165" y="657" width="1" height="17" fill="#c0c0c0"/>
<rect x="173" y="657" width="1" height="18" fill="#c0c0c0"/>
<rect x="181" y="657" width="1" height="18" fill="#c0c0c0"/>
<rect x="189" y="657" width="1" height="17" fill="#c0c0c0"/>
<rect x="197" y="657" width="1" height="17" fill="#c0c0c0"/>
<rect x="205" y="657" width="1" height="17" fill="#c0c0c0"/>
<rect x="213" y="657" width="1" height="17" fill="#c0c0c0"/>
<rect x="221" y="657" width="1" height="16" fill="#c0c0c0"/>
<rect x="229" y="657" width="1" height="18" fill="#c0c0c0"/>
<rect x="237" y="657" width="1" height="20" fill="#c0c0c0"/>
<rect x="245" y="657" width="1" height="23" fill="#c0c0c0"/>
<rect x="253" y="657" width="1" height="26" fill="#c0c0c0"/>
<rect x="261" y="657" width="1" height="28" fill="#c0c0c0"/>
<rect x="269" y="657" width="1" height="28" fill="#c0c0c0"/>
<rect x="277" y="657" width="1" height="28" fill="#c0c0c0"/>
<rect x="285" y="657" width="1" height="27" fill="#c0c0c0"/>
<rect x="293" y="657" width="1" height="27" fill="#c0c0c0"/>
<rect x="301" y="657" width="1" height="25" fill="#c0c0c0"/>
<rect x="309" y="657" width="1" height="24" fill="#c0c0c0"/>
<rect x="317" y="657" width="1" height="22" fill="#c0c0c0"/>
<rect x="325" y="657" width="1" height="20" fill="#c0c0c0"/>
<rect x="333" y="657" width="1" height="19" fill="#c0c0c0"/>
<rect x="341" y="657" width="1" height="18" fill="#c0c0c0"/>
<rect x="349" y="657" width="1" height="19" fill="#c0c0c0"/>
<rect x="357" y="657" width="1" height="20" fill="#c0c0c0"/>
<rect x="365" y="657" width="1" height="22" fill="#c0c0c0"/>
<rect x="373" y="657" width="1" height="21" fill="#c0c0c0"/>
<rect x="381" y="657" width="1" height="20" fill="#c0c0c0"/>
<rect x="389" y="657" width="1" height="18" fill="#c0c0c0"/>
<rect x="397" y="657" width="1" height="18" fill="#c0c0c0"/>
<rect x="405" y="657" width="1" height="16" fill="#c0c0c0"/>
<rect x="413" y="657" width="1" height="15" fill="#c0c0c0"/>
<rect x="421" y="657" width="1" height="13" fill="#c0c0c0"/>
<rect x="429" y="657" width="1" height="12" fill="#c0c0c0"/>
<rect x="437" y="657" width="1" height="11" fill="#c0c0c0"/>
<rect x="445" y="657" width="1" height="9" fill="#c0c0c0"/>
<rect x="453" y="657" width="1" height="6" fill="#c0c0c0"/>
<rect x="461" y="657" width="1" height="7" fill="#c0c0c0"/>
<rect x="469" y="657" width="1" height="9" fill="#c0c0c0"/>
<rect x="477" y="657" width="1" height="11" fill="#c0c0c0"/>
<rect x="485" y="657" width="1" height="11" fill="#c0c0c0"/>
<rect x="493" y="657" width="1" height="10" fill="#c0c0c0"/>
<rect x="501" y="657" width="1" height="7" fill="#c0c0c0"/>
<rect x="509" y="657" width="1" height="4" fill="#c0c0c0"/>
<rect x="517" y="657" width="1" height="2" fill="#c0c0c0"/>
<rect x="525" y="655" width="1" height="3" fill="#c0c0c0"/>
<rect x="533" y="653" width="1" height="5" fill="#c0c0c0"/>
<rect x="541" y="651" width="1" height="7" fill="#c0c0c0"/>
<rect x="549" y="650" width="1" height="8" fill="#c0c0c0"/>
<rect x="557" y="649" width="1" height="9" fill="#c0c0c0"/>
<rect x="565" y="647" width="1" height="11" fill="#c0c0c0"/>
<rect x="573" y="645" width="1" height="13" fill="#c0c0c0"/>
<rect x="581" y="644" width="1" height="14" fill="#c0c0c0"/>
<rect x="589" y="643" width="1" height="15" fill="#c0c0c0"/>
<rect x="597" y="642" width="1" height="16" fill="#c0c0c0"/>
<rect x="605" y="641" width="1" height="17" fill="#c0c0c0"/>
<rect x="613" y="643" width="1" height="15" fill="#c0c0c0"/>
<rect x="621" y="645" width="1" height="13" fill="#c0c0c0"/>
<rect x="629" y="646" width="1" height="12" fill="#c0c0c0"/>
<rect x="637" y="648" width="1" height="10" fill="#c0c0c0"/>
<rect x="645" y="649" width="1" height="9" fill="#c0c0c0"/>
<rect x="653" y="653" width="1" height="5" fill="#c0c0c0"/>
<rect x="669" y="657" width="1" height="5" fill="#c0c0c0"/>
<rect x="677" y="657" width="1" height="11" fill="#c0c0c0"/>
<rect x="685" y="657" width="1" height="17" fill="#c0c0c0"/>
<rect x="693" y="657" width="1" height="22" fill="#c0c0c0"/>
<rect x="701" y="657" width="1" height="27" fill="#c0c0c0"/>
<rect x="709" y="657" width="1" height="36" fill="#c0c0c0"/>
<rect x="717" y="657" width="1" height="44" fill="#c0c0c0"/>
<rect x="725" y="657" width="1" height="52" fill="#c0c0c0"/>
<rect x="733" y="657" width="1" height="56" fill="#c0c0c0"/>
<rect x="741" y="657" width="1" height="57" fill="#c0c0c0"/>
<rect x="749" y="657" width="1" height="50" fill="#c0c0c0"/>
<rect x="757" y="657" width="1" height="44" fill="#c0c0c0"/>
<rect x="765" y="657" width="1" height="39" fill="#c0c0c0"/>
<rect x="773" y="657" width="1" height="37" fill="#c0c0c0"/>
<rect x="781" y="657" width="1" height="28" fill="#c0c0c0"/>
<rect x="789" y="657" width="1" height="18" fill="#c0c0c0"/>
<rect x="797" y="657" width="1" height="5" fill="#c0c0c0"/>
<rect x="805" y="649" width="1" height="9" fill="#c0c0c0"/>
<rect x="813" y="639" width="1" height="19" fill="#c0c0c0"/>
<rect x="821" y="635" width="1" height="23" fill="#c0c0c0"/>
<rect x="829" y="632" width="1" height="26" fill="#c0c0c0"/>
<rect x="837" y="631" width="1" height="27" fill="#c0c0c0"/>
<rect x="845" y="636" width="1" height="22" fill="#c0c0c0"/>
<rect x="853" y="644" width="1" height="14" fill="#c0c0c0"/>
<rect x="861" y="652" width="1" height="6" fill="#c0c0c0"/>
<rect x="869" y="655" width="1" height="3" fill="#c0c0c0"/>
<rect x="877" y="656" width="1" height="2" fill="#c0c0c0"/>
<rect x="885" y="655" width="1" height="3" fill="#c0c0c0"/>
<rect x="893" y="652" width="1" height="6" fill="#c0c0c0"/>
<rect x="901" y="648" width="1" height="10" fill="#c0c0c0"/>
<rect x="909" y="646" width="1" height="12" fill="#c0c0c0"/>
<rect x="917" y="643" width="1" height="15" fill="#c0c0c0"/>
<rect x="925" y="645" width="1" height="13" fill="#c0c0c0"/>
<rect x="933" y="645" width="1" height="13" fill="#c0c0c0"/>
<rect x="941" y="648" width="1" height="10" fill="#c0c0c0"/>
<rect x="949" y="651" width="1" height="7" fill="#c0c0c0"/>
<rect x="957" y="653" width="1" height="5" fill="#c0c0c0"/>
<rect x="965" y="654" width="1" height="4" fill="#c0c0c0"/>
<rect x="973" y="657" width="1" height="1" fill="#c0c0c0"/>
<rect x="981" y="657" width="1" height="2" fill="#c0c0c0"/>
<rect x="997" y="657" width="1" height="2" fill="#c0c0c0"/>
<rect x="1005" y="657" width="1" height="1" fill="#c0c0c0"/>
<rect x="1013" y="657" width="1" height="1" fill="#c0c0c0"/>
<rect x="1021" y="657" width="1" height="1" fill="#c0c0c0"/>
<rect x="1029" y="655" width="1" height="3" fill="#c0c0c0"/>
<rect x="1037" y="653" width="1" height="5" fill="#c0c0c0"/>
<rect x="1045" y="651" width="1" height="7" fill="#c0c0c0"/>
<rect x="1053" y="649" width="1" height="9" fill="#c0c0c0"/>
<rect x="1061" y="647" width="1" height="11" fill="#c0c0c0"/>
<rect x="1069" y="647" width="1" height="11" fill="#c0c0c0"/>
<rect x="1077" y="646" width="1" height="12" fill="#c0c0c0"/>
<rect x="1085" y="649" width="1" height="9" fill="#c0c0c0"/>
<rect x="1093" y="655" width="1" height="3" fill="#c0c0c0"/>
<rect x="1101" y="657" width="1" height="2" fill="#c0c0c0"/>
<rect x="1109" y="657" width="1" height="4" fill="#c0c0c0"/>
<rect x="1117" y="657" width="1" height="2" fill="#c0c0c0"/>
<rect x="1125" y="655" width="1" height="3" fill="#c0c0c0"/>
<rect x="1133" y="653" width="1" height="5" fill="#c0c0c0"/>
<rect x="1141" y="654" width="1" height="4" fill="#c0c0c0"/>
<rect x="1149" y="654" width="1" height="4" fill="#c0c0c0"/>
<rect x="1157" y="653" width="1" height="5" fill="#c0c0c0"/>
<rect x="1165" y="654" width="1" height="4" fill="#c0c0c0"/>
<rect x="1173" y="655" width="1" height="3" fill="#c0c0c0"/>
<rect x="1181" y="654" width="1" height="4" fill="#c0c0c0"/>
<rect x="1189" y="653" width="1" height="5" fill="#c0c0c0"/>
<rect x="1197" y="653" width="1" height="5" fill="#c0c0c0"/>
<rect x="1205" y="653" width="1" height="5" fill="#c0c0c0"/>
<polyline points="-2.5,658.0 5.5,657.5 13.5,657.0 21.5,656.0 29.5,655.1 37.5,654.0 45.5,652.5 53.5,651.0 61.5,651.0 69.5,651.0 77.5,651.0 85.5,652.1 93.5,653.1 101.5,654.8 109.5,657.0 117.5,659.0 125.5,660.9 133.5,662.5 141.5,663.8 149.5,665.0 157.5,666.4 165.5,667.8 173.5,669.2 181.5,670.4 189.5,671.4 197.5,672.2 205.5,672.7 213.5,673.2 221.5,673.5 229.5,673.8 237.5,674.2 245.5,674.7 253.5,675.6 261.5,676.7 269.5,678.0 277.5,679.2 285.5,680.3 293.5,681.4 301.5,682.2 309.5,682.7 317.5,682.6 325.5,682.0 333.5,681.0 341.5,679.9 349.5,678.9 357.5,678.2 365.5,677.7 373.5,677.2 381.5,676.7 389.5,676.2 397.5,676.0 405.5,675.6 413.5,675.2 421.5,674.6 429.5,673.7 437.5,672.5 445.5,671.2 453.5,669.6 461.5,668.3 469.5,667.3 477.5,666.7 485.5,666.3 493.5,665.9 501.5,665.4 509.5,664.7 517.5,663.9 525.5,663.1 533.5,662.0 541.5,660.5 549.5,658.7 557.5,656.7 565.5,654.6 573.5,652.5 581.5,650.7 589.5,649.1 597.5,647.7 605.5,646.4 613.5,645.5 621.5,644.8 629.5,644.5 637.5,644.6 645.5,645.1 653.5,646.1 661.5,647.7 669.5,649.8 677.5,652.7 685.5,656.0 693.5,659.6 701.5,663.7 709.5,668.7 717.5,674.3 725.5,680.4 733.5,686.5 741.5,692.2 749.5,696.5 757.5,699.6 765.5,701.5 773.5,702.6 781.5,701.7 789.5,698.9 797.5,693.6 805.5,686.6 813.5,678.5 821.5,670.5 829.5,662.9 837.5,655.8 845.5,649.4 853.5,645.0 861.5,642.5 869.5,641.9 877.5,642.6 885.5,644.4 893.5,646.4 901.5,648.2 909.5,649.9 917.5,650.7 925.5,650.7 933.5,650.0 941.5,649.3 949.5,648.7 957.5,648.5 965.5,648.6 973.5,649.7 981.5,651.1 989.5,652.6 997.5,654.1 1005.5,655.4 1013.5,656.4 1021.5,657.0 1029.5,657.3 1037.5,657.2 1045.5,656.4 1053.5,655.4 1061.5,654.3 1069.5,653.1 1077.5,651.9 1085.5,651.0 1093.5,650.8 1101.5,651.1 1109.5,651.9 1117.5,652.7 1125.5,653.3 1133.5,654.0 1141.5,654.7 1149.5,655.5 1157.5,655.9 1165.5,655.9 1173.5,655.5 1181.5,654.8 1189.5,654.3 1197.5,654.0 1205.5,654.0" fill="none" stroke="#ff0000" stroke-width="1" stroke-dasharray="3 3"/>
</g>
<text x="9.5" y="638" font-size="10.3" fill="#000" stroke="#000" stroke-width="0.2" textLength="147.3" lengthAdjust="spacingAndGlyphs">MACD(12,26,9) 0.000799 0.000667</text>
<text x="1524.3" y="635.5" font-size="10.3" fill="#000" stroke="#000" stroke-width="0.2" textLength="37.6" lengthAdjust="spacingAndGlyphs">0.005818</text>
<text x="1524.3" y="661" font-size="10.3" fill="#000" stroke="#000" stroke-width="0.2" textLength="17.1" lengthAdjust="spacingAndGlyphs">0.00</text>
<text x="1524.3" y="714" font-size="10.3" fill="#000" stroke="#000" stroke-width="0.2" textLength="40.8" lengthAdjust="spacingAndGlyphs">-0.011514</text>
<rect x="1521" y="657" width="2" height="1" fill="#000"/>
<rect x="5" y="718" width="1" height="3" fill="#000"/>
<text x="4" y="729.8" font-size="10.3" fill="#000" stroke="#000" stroke-width="0.2" textLength="54.3" lengthAdjust="spacingAndGlyphs">25 Nov 2019</text>
<rect x="69" y="718" width="1" height="3" fill="#000"/>
<text x="68" y="729.8" font-size="10.3" fill="#000" stroke="#000" stroke-width="0.2" textLength="46.9" lengthAdjust="spacingAndGlyphs">4 Dec 2019</text>
<rect x="133" y="718" width="1" height="3" fill="#000"/>
<text x="132" y="729.8" font-size="10.3" fill="#000" stroke="#000" stroke-width="0.2" textLength="51.2" lengthAdjust="spacingAndGlyphs">13 Dec 2019</text>
<rect x="197" y="718" width="1" height="3" fill="#000"/>
<text x="196" y="729.8" font-size="10.3" fill="#000" stroke="#000" stroke-width="0.2" textLength="51.2" lengthAdjust="spacingAndGlyphs">23 Dec 2019</text>
<rect x="261" y="718" width="1" height="3" fill="#000"/>
<text x="260" y="729.8" font-size="10.3" fill="#000" stroke="#000" stroke-width="0.2" textLength="44" lengthAdjust="spacingAndGlyphs">1 Jan 2020</text>
<rect x="325" y="718" width="1" height="3" fill="#000"/>
<text x="324" y="729.8" font-size="10.3" fill="#000" stroke="#000" stroke-width="0.2" textLength="49.2" lengthAdjust="spacingAndGlyphs">10 Jan 2020</text>
<rect x="389" y="718" width="1" height="3" fill="#000"/>
<text x="388" y="729.8" font-size="10.3" fill="#000" stroke="#000" stroke-width="0.2" textLength="49.2" lengthAdjust="spacingAndGlyphs">20 Jan 2020</text>
<rect x="453" y="718" width="1" height="3" fill="#000"/>
<text x="452" y="729.8" font-size="10.3" fill="#000" stroke="#000" stroke-width="0.2" textLength="49.2" lengthAdjust="spacingAndGlyphs">29 Jan 2020</text>
<rect x="517" y="718" width="1" height="3" fill="#000"/>
<text x="516" y="729.8" font-size="10.3" fill="#000" stroke="#000" stroke-width="0.2" textLength="46.1" lengthAdjust="spacingAndGlyphs">7 Feb 2020</text>
<rect x="581" y="718" width="1" height="3" fill="#000"/>
<text x="580" y="729.8" font-size="10.3" fill="#000" stroke="#000" stroke-width="0.2" textLength="51.2" lengthAdjust="spacingAndGlyphs">17 Feb 2020</text>
<rect x="645" y="718" width="1" height="3" fill="#000"/>
<text x="644" y="729.8" font-size="10.3" fill="#000" stroke="#000" stroke-width="0.2" textLength="51.2" lengthAdjust="spacingAndGlyphs">26 Feb 2020</text>
<rect x="709" y="718" width="1" height="3" fill="#000"/>
<text x="708" y="729.8" font-size="10.3" fill="#000" stroke="#000" stroke-width="0.2" textLength="46.1" lengthAdjust="spacingAndGlyphs">6 Mar 2020</text>
<rect x="773" y="718" width="1" height="3" fill="#000"/>
<text x="772" y="729.8" font-size="10.3" fill="#000" stroke="#000" stroke-width="0.2" textLength="51.2" lengthAdjust="spacingAndGlyphs">16 Mar 2020</text>
<rect x="837" y="718" width="1" height="3" fill="#000"/>
<text x="836" y="729.8" font-size="10.3" fill="#000" stroke="#000" stroke-width="0.2" textLength="51.2" lengthAdjust="spacingAndGlyphs">25 Mar 2020</text>
<rect x="901" y="718" width="1" height="3" fill="#000"/>
<text x="900" y="729.8" font-size="10.3" fill="#000" stroke="#000" stroke-width="0.2" textLength="45.6" lengthAdjust="spacingAndGlyphs">3 Apr 2020</text>
<rect x="965" y="718" width="1" height="3" fill="#000"/>
<text x="964" y="729.8" font-size="10.3" fill="#000" stroke="#000" stroke-width="0.2" textLength="50.2" lengthAdjust="spacingAndGlyphs">13 Apr 2020</text>
<rect x="1029" y="718" width="1" height="3" fill="#000"/>
<text x="1028" y="729.8" font-size="10.3" fill="#000" stroke="#000" stroke-width="0.2" textLength="50.7" lengthAdjust="spacingAndGlyphs">22 Apr 2020</text>
<rect x="1093" y="718" width="1" height="3" fill="#000"/>
<text x="1092" y="729.8" font-size="10.3" fill="#000" stroke="#000" stroke-width="0.2" textLength="49.1" lengthAdjust="spacingAndGlyphs">1 May 2020</text>
<rect x="1157" y="718" width="1" height="3" fill="#000"/>
<text x="1156" y="729.8" font-size="10.3" fill="#000" stroke="#000" stroke-width="0.2" textLength="54.2" lengthAdjust="spacingAndGlyphs">11 May 2020</text>
<rect x="0" y="738" width="1562" height="1" fill="#e3e3e3"/>
<rect x="0" y="740" width="1562" height="1" fill="#000"/>
<rect x="0" y="741" width="1562" height="18" fill="#f0f0f0"/>
<rect x="0" y="741" width="1" height="18" fill="#a0a0a0"/>
<rect x="1" y="741" width="1" height="18" fill="#696969"/>
<rect x="110" y="740" width="100" height="19" fill="#000"/>
<rect x="111" y="740" width="98" height="18" fill="#fff"/>
<text x="18.4" y="754.7" font-size="12" fill="#7f7f7f" stroke="#7f7f7f" stroke-width="0.05" textLength="79.7" lengthAdjust="spacingAndGlyphs">EURUSD,Daily</text>
<text x="120.4" y="754.7" font-size="12" fill="#000" stroke="#000" stroke-width="0.15" textLength="78.6" lengthAdjust="spacingAndGlyphs">USDCHF,Daily</text>
<text x="220.7" y="754.7" font-size="12" fill="#7f7f7f" stroke="#7f7f7f" stroke-width="0.05" textLength="82.2" lengthAdjust="spacingAndGlyphs">AUDUSD,Daily</text>
<text x="325.2" y="754.7" font-size="12" fill="#7f7f7f" stroke="#7f7f7f" stroke-width="0.05" textLength="80.3" lengthAdjust="spacingAndGlyphs">USDCAD,Daily</text>
<text x="428.2" y="754.7" font-size="12" fill="#7f7f7f" stroke="#7f7f7f" stroke-width="0.05" textLength="82.7" lengthAdjust="spacingAndGlyphs">USDCNH,Daily</text>
<text x="533.9" y="754.7" font-size="12" fill="#7f7f7f" stroke="#7f7f7f" stroke-width="0.05" textLength="79.9" lengthAdjust="spacingAndGlyphs">EURUSD,Daily</text>
<text x="638.2" y="754.7" font-size="12" fill="#7f7f7f" stroke="#7f7f7f" stroke-width="0.05" textLength="79.3" lengthAdjust="spacingAndGlyphs">GBPUSD,Daily</text>
<text x="740.1" y="754.7" font-size="12" fill="#7f7f7f" stroke="#7f7f7f" stroke-width="0.05" textLength="78.3" lengthAdjust="spacingAndGlyphs">XAUUSD,M30</text>
<text x="841" y="754.7" font-size="12" fill="#7f7f7f" stroke="#7f7f7f" stroke-width="0.05" textLength="49.1" lengthAdjust="spacingAndGlyphs">HK50,H1</text>
<text x="913.4" y="754.7" font-size="12" fill="#7f7f7f" stroke="#7f7f7f" stroke-width="0.05" textLength="56.1" lengthAdjust="spacingAndGlyphs">UK100,H1</text>
<text x="993.3" y="754.7" font-size="12" fill="#7f7f7f" stroke="#7f7f7f" stroke-width="0.05" textLength="56.4" lengthAdjust="spacingAndGlyphs">UK100,H1</text>
<text x="1073.5" y="754.7" font-size="12" fill="#7f7f7f" stroke="#7f7f7f" stroke-width="0.05" textLength="56.1" lengthAdjust="spacingAndGlyphs">GER30,H1</text>
<text x="1152.9" y="754.7" font-size="12" fill="#7f7f7f" stroke="#7f7f7f" stroke-width="0.05" textLength="53.1" lengthAdjust="spacingAndGlyphs">FRA40,H1</text>
<text x="1228.6" y="754.7" font-size="12" fill="#7f7f7f" stroke="#7f7f7f" stroke-width="0.05" textLength="50.4" lengthAdjust="spacingAndGlyphs">USOil,H4</text>
<text x="1300.3" y="754.7" font-size="12" fill="#7f7f7f" stroke="#7f7f7f" stroke-width="0.05" textLength="61.4" lengthAdjust="spacingAndGlyphs">USDJPY,H1</text>
<text x="1384.3" y="754.7" font-size="12" fill="#7f7f7f" stroke="#7f7f7f" stroke-width="0.05" textLength="46.1" lengthAdjust="spacingAndGlyphs">DJ30,H1</text>
<rect x="314" y="743" width="1" height="14" fill="#5a5a5a"/>
<rect x="418" y="743" width="1" height="14" fill="#5a5a5a"/>
<rect x="523" y="743" width="1" height="14" fill="#5a5a5a"/>
<rect x="626" y="743" width="1" height="14" fill="#5a5a5a"/>
<rect x="731" y="743" width="1" height="14" fill="#5a5a5a"/>
<rect x="830" y="743" width="1" height="14" fill="#5a5a5a"/>
<rect x="902" y="743" width="1" height="14" fill="#5a5a5a"/>
<rect x="982" y="743" width="1" height="14" fill="#5a5a5a"/>
<rect x="1062" y="743" width="1" height="14" fill="#5a5a5a"/>
<rect x="1142" y="743" width="1" height="14" fill="#5a5a5a"/>
<rect x="1218" y="743" width="1" height="14" fill="#5a5a5a"/>
<rect x="1290" y="743" width="1" height="14" fill="#5a5a5a"/>
<rect x="1374" y="743" width="1" height="14" fill="#5a5a5a"/>
<rect x="1442" y="743" width="1" height="14" fill="#5a5a5a"/>
<path d="M1535.5 749l3.7 -3.5v7z" fill="#909090" shape-rendering="auto"/>
<path d="M1558.5 749l-3.7 -3.5v7z" fill="#909090" shape-rendering="auto"/>
</svg>
</body></html>
